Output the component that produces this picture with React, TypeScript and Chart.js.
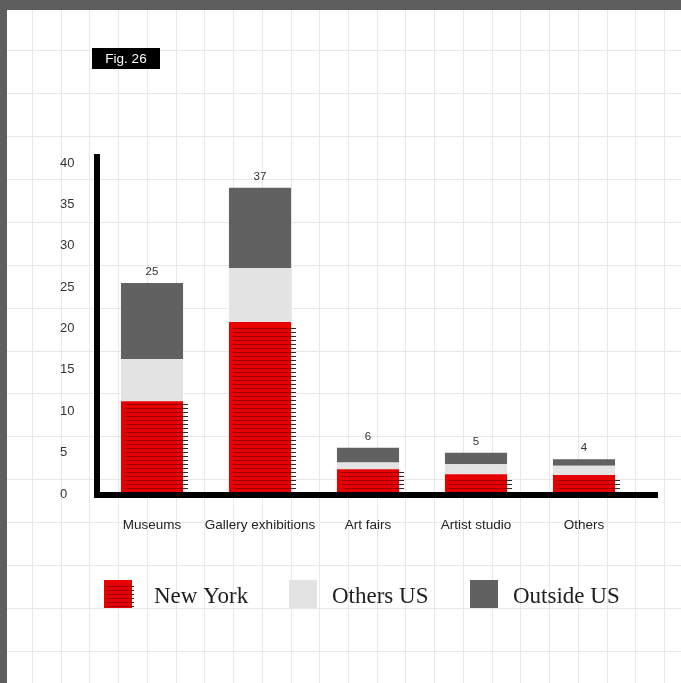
import React, { useEffect, useRef } from 'react';
import { Chart, registerables } from 'chart.js';

Chart.register(...registerables);

const categories = ['Museums', 'Gallery exhibitions', 'Art fairs', 'Artist studio', 'Others'];
const newYork = [11.2, 20.8, 3.0, 2.4, 2.3];
const othersUS = [5.1, 6.5, 0.8, 1.2, 1.1];
const outsideUS = [9.2, 9.7, 1.8, 1.4, 0.8];
const totalLabels = ['25', '37', '6', '5', '4'];
const seriesNames = ['New York', 'Others US', 'Outside US'];
const seriesColors = ['#e60000', '#e3e3e3', '#616161'];
const figLabel = 'Fig. 26';
const yMax = 40;
const yStep = 5;

const SANS = '"Liberation Sans", Arial, sans-serif';
const SERIF = '"Liberation Serif", "Times New Roman", serif';

function drawStripes(ctx: CanvasRenderingContext2D, left: number, right: number, top: number, bottom: number, ext: number) {
  ctx.save();
  ctx.lineWidth = 1;
  const rows: number[] = [];
  for (let yy = Math.round(bottom) - 2; yy > top + 2.5; yy -= 4) rows.push(yy + 0.5);
  ctx.strokeStyle = '#990000';
  ctx.beginPath();
  rows.forEach((py) => {
    ctx.moveTo(left + 4, py);
    ctx.lineTo(right, py);
  });
  ctx.stroke();
  ctx.strokeStyle = '#2a2a2a';
  ctx.beginPath();
  rows.forEach((py) => {
    ctx.moveTo(right, py);
    ctx.lineTo(right + ext, py);
  });
  ctx.stroke();
  ctx.restore();
}

const backgroundPlugin = {
  id: 'paperBackground',
  beforeDraw(chart: any) {
    const ctx: CanvasRenderingContext2D = chart.ctx;
    const W = chart.width;
    const H = chart.height;
    ctx.save();
    ctx.fillStyle = '#5e5e5e';
    ctx.fillRect(0, 0, W, H);
    ctx.fillStyle = '#ffffff';
    ctx.fillRect(7, 10, W - 7, H - 10);
    ctx.strokeStyle = '#e8e8e8';
    ctx.lineWidth = 1;
    ctx.beginPath();
    for (let x = 32; x < W; x += 28.73) {
      const px = Math.round(x) + 0.5;
      ctx.moveTo(px, 10);
      ctx.lineTo(px, H);
    }
    for (let y = 50; y < H; y += 42.93) {
      const py = Math.round(y) + 0.5;
      ctx.moveTo(7, py);
      ctx.lineTo(W, py);
    }
    ctx.stroke();
    // figure label
    ctx.fillStyle = '#000000';
    ctx.fillRect(92, 48, 68, 21);
    ctx.fillStyle = '#ffffff';
    ctx.font = '13.5px ' + SANS;
    ctx.textAlign = 'center';
    ctx.textBaseline = 'middle';
    ctx.fillText(figLabel, 126, 59);
    ctx.restore();
  },
};

const overlayPlugin = {
  id: 'overlay',
  afterDatasetsDraw(chart: any) {
    const ctx: CanvasRenderingContext2D = chart.ctx;
    const yScale = chart.scales.y;
    const area = chart.chartArea;
    // stripes on New York bars
    const nyMeta = chart.getDatasetMeta(0);
    nyMeta.data.forEach((bar: any) => {
      const p = bar.getProps(['x', 'y', 'base', 'width'], true);
      drawStripes(ctx, p.x - p.width / 2, p.x + p.width / 2, p.y, p.base, 5);
    });
    // axes lines
    const zero = yScale.getPixelForValue(0);
    const top = yScale.getPixelForValue(yMax);
    ctx.save();
    ctx.fillStyle = '#000000';
    ctx.fillRect(area.left - 4, top - 9, 6, zero + 4 - (top - 9));
    ctx.fillRect(area.left - 4, zero - 2, 564, 6);
    // totals
    const topMeta = chart.getDatasetMeta(2);
    ctx.fillStyle = '#333333';
    ctx.font = '11.5px ' + SANS;
    ctx.textAlign = 'center';
    ctx.textBaseline = 'middle';
    topMeta.data.forEach((bar: any, i: number) => {
      const p = bar.getProps(['x', 'y'], true);
      ctx.fillText(totalLabels[i], p.x, p.y - 11);
    });
    ctx.restore();
  },
  afterDraw(chart: any) {
    const ctx: CanvasRenderingContext2D = chart.ctx;
    const boxX = [104, 289, 470];
    const textX = [154, 332, 513];
    ctx.save();
    seriesNames.forEach((name, i) => {
      ctx.fillStyle = seriesColors[i];
      ctx.fillRect(boxX[i], 580, 28, 28);
      if (i === 0) drawStripes(ctx, boxX[i] - 2, boxX[i] + 28, 580, 608, 2);
      ctx.fillStyle = '#1e1e1e';
      ctx.font = '23px ' + SERIF;
      ctx.textAlign = 'left';
      ctx.textBaseline = 'alphabetic';
      ctx.fillText(name, textX[i], 603);
    });
    ctx.restore();
  },
};

export default function App() {
  const ref = useRef<HTMLCanvasElement | null>(null);
  useEffect(() => {
    const canvas = ref.current;
    if (!canvas) return;
    const chart = new Chart(canvas, {
      type: 'bar',
      data: {
        labels: categories,
        datasets: [
          { label: seriesNames[0], data: newYork, backgroundColor: seriesColors[0] },
          { label: seriesNames[1], data: othersUS, backgroundColor: seriesColors[1] },
          { label: seriesNames[2], data: outsideUS, backgroundColor: seriesColors[2] },
        ],
      },
      options: {
        animation: false,
        responsive: false,
        devicePixelRatio: 1,
        layout: { padding: { top: 163, left: 60, right: 43, bottom: 0 } },
        datasets: { bar: { barPercentage: 0.575, categoryPercentage: 1 } },
        plugins: {
          legend: { display: false },
          tooltip: { enabled: false },
          title: { display: false },
        },
        scales: {
          x: {
            stacked: true,
            grid: { display: false, drawTicks: false },
            border: { display: false },
            ticks: {
              color: '#222222',
              font: { size: 13.5, family: SANS },
              padding: 23,
              maxRotation: 0,
              autoSkip: false,
            },
            afterFit: (scale: any) => {
              scale.height = 189;
            },
          },
          y: {
            stacked: true,
            min: 0,
            max: yMax,
            grid: { display: false, drawTicks: false },
            border: { display: false },
            ticks: {
              stepSize: yStep,
              color: '#333333',
              font: { size: 13, family: SANS },
              crossAlign: 'far',
            },
            afterFit: (scale: any) => {
              scale.width = 38;
            },
          },
        },
      },
      plugins: [backgroundPlugin, overlayPlugin],
    } as any);
    return () => chart.destroy();
  }, []);
  return (
    <div style={{ position: 'fixed', left: 0, top: 0, width: 681, height: 683 }}>
      <canvas ref={ref} width={681} height={683} style={{ width: 681, height: 683, display: 'block' }} />
    </div>
  );
}
